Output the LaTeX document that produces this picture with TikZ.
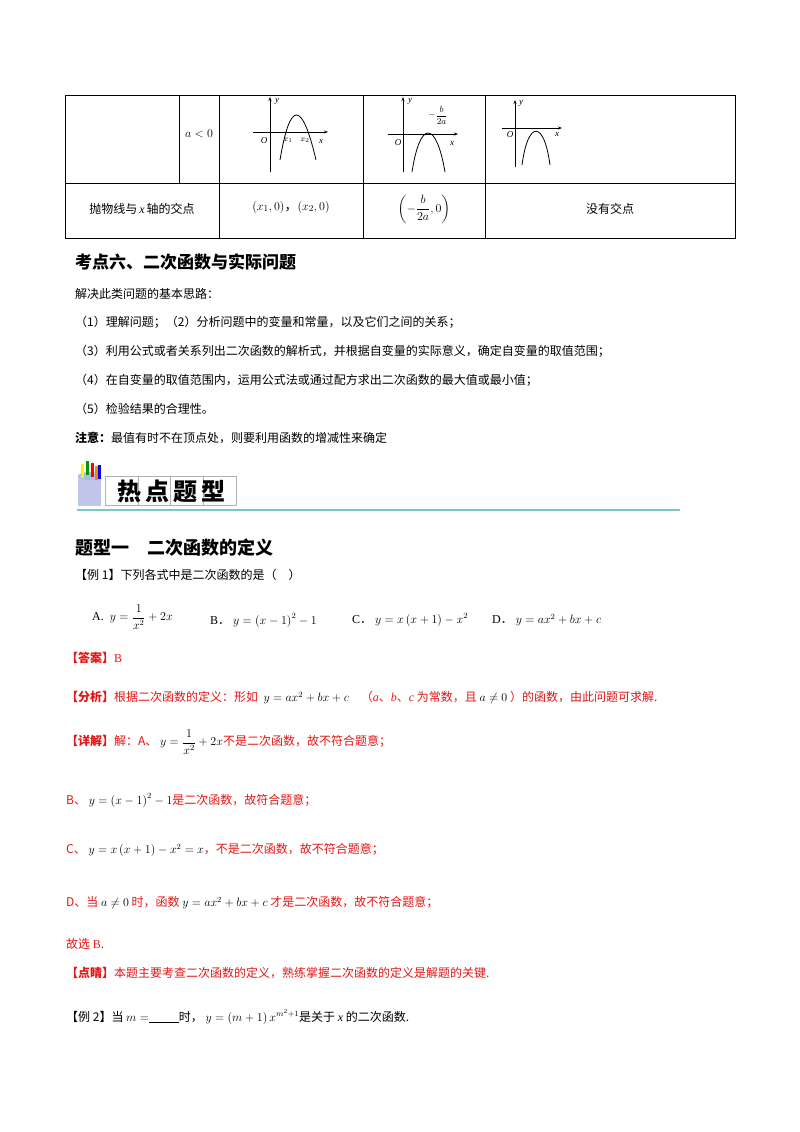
\documentclass[tikz,border=0pt]{standalone}
\usepackage{amsmath}
\usepackage{fontspec}
\setmainfont{Liberation Serif}
\newfontfamily\cjk{Noto Sans CJK SC}
\usetikzlibrary{arrows.meta}
\definecolor{myred}{RGB}{230,20,20}
\definecolor{teal2}{RGB}{120,200,200}
\tikzset{txt/.style={anchor=west,inner sep=0pt,font=\fontsize{12}{14}\selectfont},
 rtxt/.style={txt,text=myred},
 head/.style={anchor=west,inner sep=0pt,font=\fontsize{17}{20}\selectfont\cjk\bfseries},
 cell/.style={inner sep=0pt,font=\fontsize{13}{15}\selectfont},
 ax/.style={-{Stealth[length=4pt]},line width=0.6pt},
 par/.style={line width=0.8pt}}
\begin{document}
\begin{tikzpicture}[x=1pt,y=-1pt]
\useasboundingbox (0,0) rectangle (800,1132);
% table
\draw[line width=0.6pt] (65,95) rectangle (735,238);
\draw[line width=0.6pt] (65,183) -- (735,183) (179,95) -- (179,183) (219,95) -- (219,238) (363,95) -- (363,238) (485,95) -- (485,238);
\node[cell] (alt) at (199,134) {$a<0$};
% graph 1
\draw[ax] (253,132) -- (328,132);
\draw[ax] (270,172) -- (270,97);
\draw[par] (280,160) .. controls (290,100) and (302,100) .. (316,160);
\node[cell,font=\small\itshape] (y1) at (277,101) {y};
\node[cell,font=\small\itshape] (o1) at (264,141) {O};
\node[cell,font=\footnotesize] (x1) at (288,140) {$x_1$};
\node[cell,font=\footnotesize] (x2) at (305,140) {$x_2$};
\node[cell,font=\small\itshape] (xx1) at (321,141) {x};
% graph 2
\draw[ax] (388,134) -- (458,134);
\draw[ax] (403,172) -- (403,97);
\draw[par] (412,172) .. controls (420,120) and (436,120) .. (445,172);
\node[cell,font=\small\itshape] (y2) at (410,101) {y};
\node[cell,font=\small\itshape] (o2) at (398,143) {O};
\node[cell,font=\small] (vb) at (438,115) {$-\dfrac{b}{2a}$};
\node[cell,font=\small\itshape] (xx2) at (452,143) {x};
% graph 3
\draw[ax] (502,128) -- (562,128);
\draw[ax] (515,167) -- (515,100);
\draw[par] (522,165) .. controls (528,120) and (544,120) .. (550,165);
\node[cell,font=\small\itshape] (y3) at (521,103) {y};
\node[cell,font=\small\itshape] (o3) at (510,135) {O};
\node[cell,font=\small\itshape] (xx3) at (557,134) {x};
% row 2
\node[cell] (r1) at (142,209) {\cjk\fontsize{12}{14}\selectfont 抛物线与\,{\rmfamily\itshape\large x}\,轴的交点};
\node[cell] (r2) at (291,207) {$(x_1,0)${\cjk，}$(x_2,0)$};
\node[cell] (r3) at (424,209) {$\left(-\dfrac{b}{2a},0\right)$};
\node[cell] (r4) at (610,209) {\cjk\fontsize{12}{14}\selectfont 没有交点};
% section
\node[head] (h6) at (75,262) {考点六、二次函数与实际问题};
\node[txt] (t1) at (75,294) {\cjk 解决此类问题的基本思路：};
\node[txt] (t2) at (75,322) {\cjk（1）理解问题；（2）分析问题中的变量和常量，以及它们之间的关系；};
\node[txt] (t3) at (75,351) {\cjk（3）利用公式或者关系列出二次函数的解析式，并根据自变量的实际意义，确定自变量的取值范围；};
\node[txt] (t4) at (75,380) {\cjk（4）在自变量的取值范围内，运用公式法或通过配方求出二次函数的最大值或最小值；};
\node[txt] (t5) at (75,409) {\cjk（5）检验结果的合理性。};
\node[txt] (t6) at (75,438) {\cjk\textbf{注意：}最值有时不在顶点处，则要利用函数的增减性来确定};
% banner
\fill[cyan!35!blue!25] (78,476) rectangle (101,506);
\fill[cyan!50!blue!35] (89.5,476) ellipse[x radius=11.5pt,y radius=4pt];
\foreach \c/\xx/\yy in {yellow/81/464,green!60!black/86/461,red/91/463,orange/95/466,blue/98/465}{\fill[\c] (\xx,\yy) rectangle ++(3,14);}
\foreach \xx in {105,138,170,203}{\draw[gray!60,fill=white] (\xx,476) rectangle ++(33,29);}
\node[inner sep=0pt,font=\fontsize{24}{26}\selectfont\cjk\bfseries] (ban) at (172,491) {热\,点\,题\,型};
\draw[teal2,line width=2.5pt] (77,510) -- (680,510);
\node[head,font=\fontsize{18}{20}\selectfont\cjk\bfseries] (tx1) at (75,548) {题型一\quad 二次函数的定义};
\node[txt] (e1) at (75,575) {\cjk【例 1】下列各式中是二次函数的是（\quad ）};
\node[txt] (oa) at (92,617) {A.\ \ $y=\dfrac{1}{x^2}+2x$};
\node[txt] (ob) at (210,620) {B{\cjk．}\ $y=\left(x-1\right)^2-1$};
\node[txt] (oc) at (352,620) {C{\cjk．}\ $y=x\left(x+1\right)-x^2$};
\node[txt] (od) at (492,620) {D{\cjk．}\ $y=ax^2+bx+c$};
\node[rtxt] (ans) at (66,658) {\cjk\textbf{【答案】}{\rmfamily B}};
\node[rtxt] (fx) at (66,698) {\cjk\textbf{【分析】}根据二次函数的定义：形如\ \ {\color{black}$y=ax^2+bx+c$}\quad（{\rmfamily\itshape a}、{\rmfamily\itshape b}、{\rmfamily\itshape c} 为常数，且\ {\color{black}$a\neq0$}\ ）的函数，由此问题可求解.};
\node[rtxt] (xj) at (66,742) {\cjk\textbf{【详解】}解：A、\ {\color{black}$y=\dfrac{1}{x^2}+2x$}不是二次函数，故不符合题意；};
\node[rtxt] (xb) at (66,800) {\cjk B、\ {\color{black}$y=\left(x-1\right)^2-1$}是二次函数，故符合题意；};
\node[rtxt] (xc) at (66,850) {\cjk C、\ {\color{black}$y=x\left(x+1\right)-x^2=x$}，不是二次函数，故不符合题意；};
\node[rtxt] (xd) at (66,903) {\cjk D、当\ {\color{black}$a\neq0$}\ 时，函数\ {\color{black}$y=ax^2+bx+c$}\ 才是二次函数，故不符合题意；};
\node[rtxt] (gx) at (66,944) {\cjk 故选 {\rmfamily B}.};
\node[rtxt] (dj) at (66,973) {\cjk\textbf{【点睛】}本题主要考查二次函数的定义，熟练掌握二次函数的定义是解题的关键.};
\node[txt] (e2) at (66,1017) {\cjk【例 2】当\ {\rmfamily$m=$\underline{\hspace{30pt}}}时，\ $y=\left(m+1\right)x^{m^2+1}$是关于 {\rmfamily\itshape x} 的二次函数.};
\end{tikzpicture}
\end{document}
